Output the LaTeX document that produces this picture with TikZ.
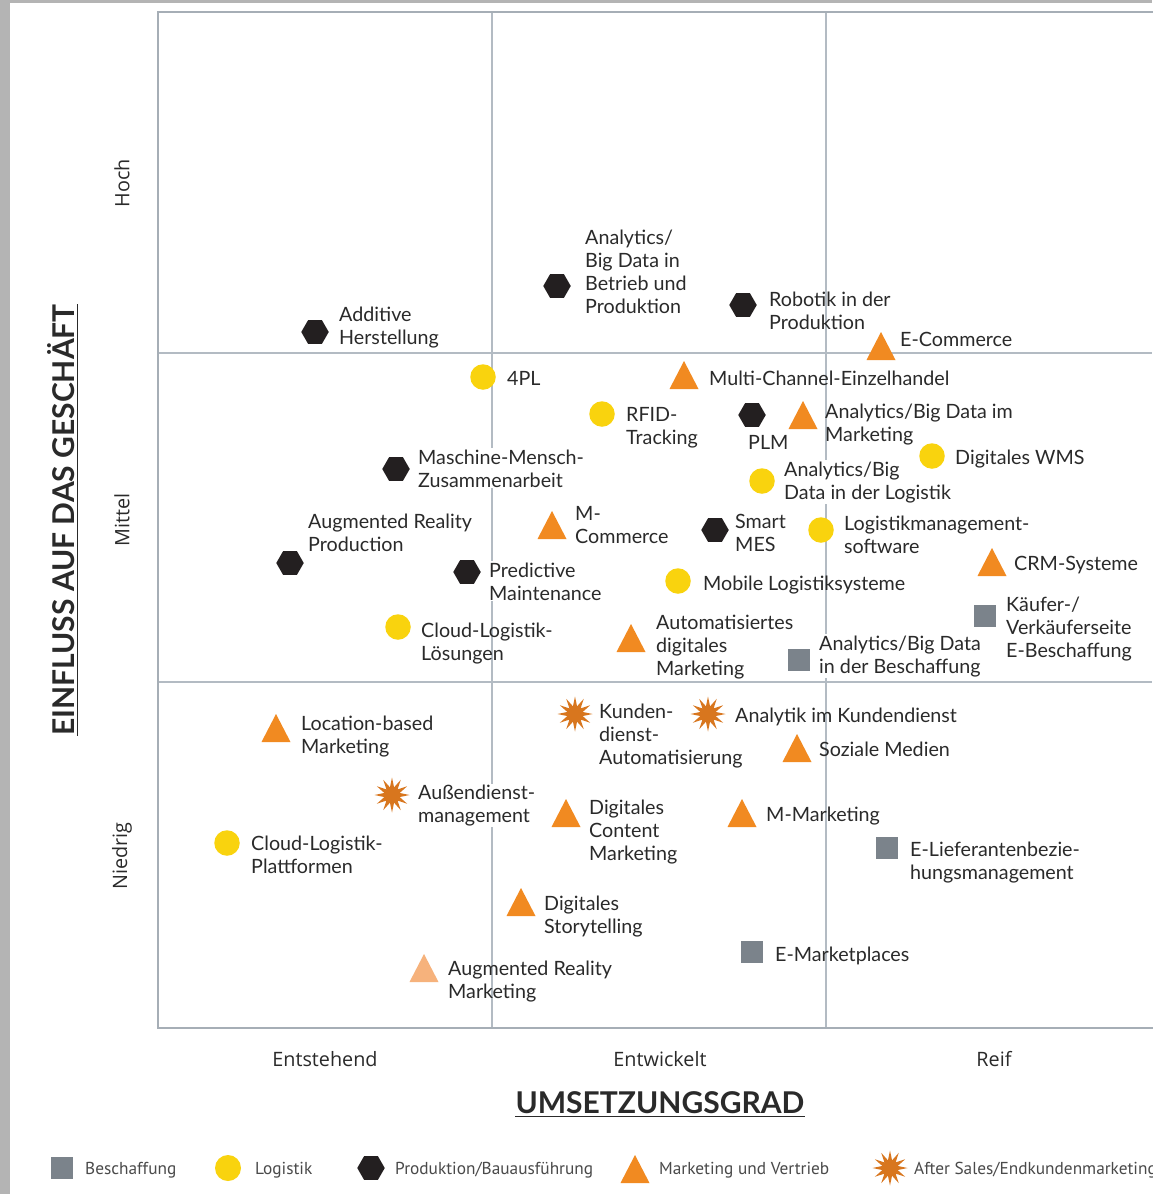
\documentclass[tikz,border=0pt]{standalone}
\usepackage{fontspec}
\setmainfont{Lato}
\newfontfamily\axisfont{Open Sans}
\newfontfamily\legfont{PT Sans}
\usetikzlibrary{shapes.geometric}
\definecolor{pagegray}{HTML}{B4B4B4}
\definecolor{framec}{HTML}{A6AEB6}
\definecolor{gridc}{HTML}{B3BBC3}
\definecolor{hexC}{HTML}{231F20}
\definecolor{yelC}{HTML}{F9D30E}
\definecolor{oraC}{HTML}{F18A21}
\definecolor{lightoraC}{HTML}{F6B27C}
\definecolor{starC}{HTML}{D8761E}
\definecolor{sqC}{HTML}{7B838B}
\definecolor{txtC}{HTML}{2A2A2A}
\newcommand\labfont{\fontsize{19.7}{23.3}\selectfont}
\tikzset{
  lab/.style={anchor=base west, align=left, inner sep=1pt, font=\labfont, text=txtC},
  labw/.style={lab, fill=white},
  hexm/.style={regular polygon, regular polygon sides=6, minimum size=27.5pt, inner sep=0pt, fill=hexC},
  circm/.style={circle, minimum size=25.5pt, inner sep=0pt, fill=yelC},
  sqm/.style={rectangle, minimum size=22pt, inner sep=0pt, fill=sqC},
  starm/.style={star, star points=12, star point ratio=2.2, minimum size=35pt, inner sep=0pt, fill=starC},
  tri/.pic={\fill[oraC] (-14.5,14) -- (0,-14) -- (14.5,14) -- cycle;},
  trilight/.pic={\fill[lightoraC] (-14.5,14) -- (0,-14) -- (14.5,14) -- cycle;},
  axlab/.style={font=\axisfont\fontsize{19.8}{22}\selectfont, text=txtC},
  leglab/.style={anchor=base west, inner sep=0pt, font=\legfont\fontsize{17.3}{20}\selectfont, text=txtC!85},
  gridl/.style={draw=gridc, line width=1.5pt},
}
\begin{document}
\begin{tikzpicture}[x=1pt,y=-1pt]
\useasboundingbox (0,0) rectangle (1152,1194);
\fill[pagegray] (0,0) rectangle (1152,1194);
\fill[white] (10,3) rectangle (1152,1194);
% grid
\draw[gridl] (492,12) -- (492,1028);
\draw[gridl] (826,12) -- (826,1028);
\draw[gridl] (158,353) -- (1152,353);
\draw[gridl] (158,682) -- (1152,682);
\draw[draw=framec, line width=2.2pt] (1160,12) -- (158,12) -- (158,1028) -- (1160,1028);

% axis labels
\node[axlab, rotate=90] (hoch) at (122,183) {Hoch};
\node[axlab, rotate=90] (mittel) at (122,520) {Mittel};
\node[axlab, rotate=90] (niedrig) at (122,856) {Niedrig};
\node[axlab, anchor=base] (entst) at (325,1066) {Entstehend};
\node[axlab, anchor=base] (entw) at (660,1066) {Entwickelt};
\node[axlab, anchor=base] (reif) at (994,1066) {Reif};

\node[anchor=base, rotate=90, inner sep=0pt, font=\bfseries\fontsize{30}{32}\selectfont, text=txtC] (ein) at (74,520) {EINFLUSS AUF DAS GESCHÄFT};
\draw[txtC, line width=1.8pt] ([xshift=3.5pt]ein.base west) -- ([xshift=3.5pt]ein.base east);
\node[anchor=base, inner sep=0pt, font=\bfseries\fontsize{30}{32}\selectfont, text=txtC] (ums) at (660,1113) {UMSETZUNGSGRAD};
\draw[txtC, line width=1.8pt] ([yshift=-3.5pt]ums.base west) -- ([yshift=-3.5pt]ums.base east);

% labels (anchor at baseline of last line)
\node[lab] (t1) at (338,344.3) {Additive\\Herstellung};
\node[lab] (t2) at (584,313.9) {Analytics/\\Big Data in\\Betrieb und\\Produktion};
\node[lab] (t3) at (768,329.3) {Robotik in der\\Produktion};
\node[lab] (t4) at (899,346) {E-Commerce};
\node[lab] (t5) at (506,385) {4PL};
\node[lab] (t6) at (708,385) {Multi-Channel-Einzelhandel};
\node[lab] (t7) at (625,444.3) {RFID-\\Tracking};
\node[lab] (t8) at (747,449) {PLM};
\node[lab] (t9) at (824,441.3) {Analytics/Big Data im\\Marketing};
\node[lab] (t10) at (954,464) {Digitales WMS};
\node[labw] (t11) at (417,487.3) {Maschine-Mensch-\\Zusammenarbeit};
\node[labw] (t12) at (783,499.3) {Analytics/Big\\Data in der Logistik};
\node[lab] (t13) at (574,543.3) {M-\\Commerce};
\node[lab] (t14) at (734,551.3) {Smart\\MES};
\node[labw] (t15) at (843,553.3) {Logistikmanagement-\\software};
\node[lab] (t16) at (307,551.3) {Augmented Reality\\Production};
\node[labw] (t17) at (488,600.3) {Predictive\\Maintenance};
\node[lab] (t18) at (1013,570) {CRM-Systeme};
\node[lab] (t19) at (702,590) {Mobile Logistiksysteme};
\node[lab] (t20) at (1005,657.6) {Käufer-/\\Verkäuferseite\\E-Beschaffung};
\node[lab] (t21) at (420,660.3) {Cloud-Logistik-\\Lösungen};
\node[lab] (t22) at (655,675.6) {Automatisiertes\\digitales\\Marketing};
\node[labw] (t23) at (818,673.3) {Analytics/Big Data\\in der Beschaffung};
\node[lab] (t24) at (300,753.3) {Location-based\\Marketing};
\node[lab] (t25) at (598,764.6) {Kunden-\\dienst-\\Automatisierung};
\node[lab] (t26) at (734,722) {Analytik im Kundendienst};
\node[lab] (t27) at (818,756) {Soziale Medien};
\node[labw] (t28) at (417,822.3) {Außendienst-\\management};
\node[lab] (t29) at (588,860.6) {Digitales\\Content\\Marketing};
\node[lab] (t30) at (765,821) {M-Marketing};
\node[lab] (t31) at (250,873.3) {Cloud-Logistik-\\Plattformen};
\node[lab] (t32) at (909,879.3) {E-Lieferantenbezie-\\hungsmanagement};
\node[lab] (t33) at (543,933.3) {Digitales\\Storytelling};
\node[lab] (t34) at (774,961) {E-Marketplaces};
\node[lab] (t35) at (447,998.3) {Augmented Reality\\Marketing};

% markers
\node[hexm] (m1) at (315,332) {};
\node[hexm] (m2) at (557,286) {};
\node[hexm] (m3) at (743,305) {};
\pic (m4) at (881,346) {tri};
\node[circm] (m5) at (483,377) {};
\pic (m6) at (684,375) {tri};
\node[circm] (m7) at (602,414) {};
\node[hexm] (m8) at (752,415) {};
\pic (m9) at (803,415) {tri};
\node[circm] (m10) at (932,456) {};
\node[hexm] (m11) at (396,469) {};
\node[circm] (m12) at (762,481) {};
\pic (m13) at (552,525) {tri};
\node[hexm] (m14) at (715,530) {};
\node[circm] (m15) at (821,530) {};
\node[hexm] (m16) at (290,563) {};
\node[hexm] (m17) at (467,572) {};
\pic (m18) at (992,562) {tri};
\node[circm] (m19) at (678,581) {};
\node[sqm] (m20) at (985,616) {};
\node[circm] (m21) at (398,627) {};
\pic (m22) at (631,638) {tri};
\node[sqm] (m23) at (799,660) {};
\pic (m24) at (276,728) {tri};
\node[starm] (m25) at (575,714) {};
\node[starm] (m26) at (708,714) {};
\pic (m27) at (797,748) {tri};
\node[starm] (m28) at (392,795) {};
\pic (m29) at (566,813) {tri};
\pic (m30) at (742,813) {tri};
\node[circm] (m31) at (227,843) {};
\node[sqm] (m32) at (887,848) {};
\pic (m33) at (521,902) {tri};
\node[sqm] (m34) at (752,952) {};
\pic (m35) at (424,968) {trilight};

% legend
\node[sqm] (l1) at (62,1168) {};
\node[leglab] (lt1) at (85,1174) {Beschaffung};
\node[circm, minimum size=26pt] (l2) at (228,1168) {};
\node[leglab] (lt2) at (255,1174) {Logistik};
\node[hexm] (l3) at (371,1168) {};
\node[leglab] (lt3) at (395,1174) {Produktion/Bauausführung};
\pic (l4) at (635,1169) {tri};
\node[leglab] (lt4) at (659,1174) {Marketing und Vertrieb};
\node[starm] (l5) at (890,1168) {};
\node[leglab] (lt5) at (914,1174) {After Sales/Endkundenmarketing};
\end{tikzpicture}
\end{document}
